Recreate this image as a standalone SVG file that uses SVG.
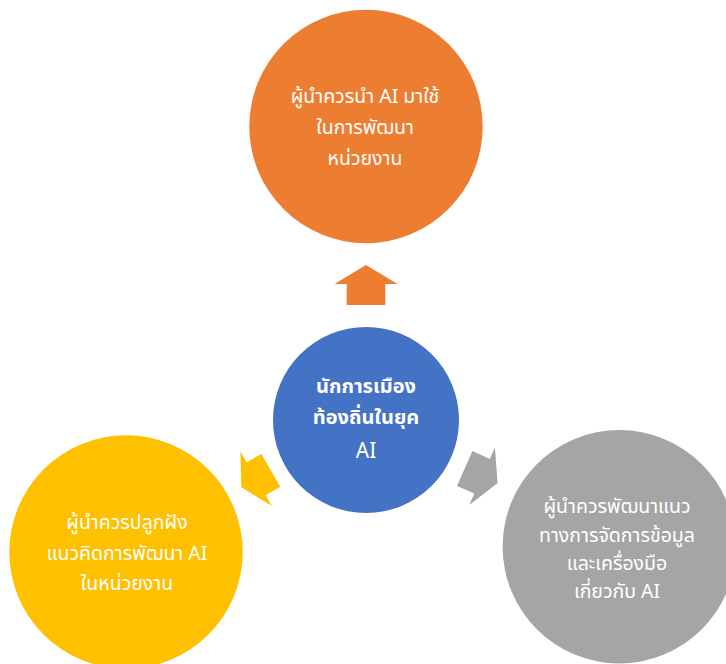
<svg xmlns="http://www.w3.org/2000/svg" width="726" height="664" viewBox="0 0 726 664">
<style>
.t{font-family:"Noto Sans Thai","Leelawadee UI","Tahoma","Noto Sans","DejaVu Sans",sans-serif;fill:#fff;text-anchor:middle;font-size:19.5px}
.b{font-weight:bold;font-size:20px}
.a{font-size:21px}
</style>
<rect width="726" height="664" fill="#fff"/>
<g id="connectors">
<path id="arrow-up" fill="#ED7D31" d="M346.7,305 L346.7,284 L334.5,284 L366,265 L397.5,284 L385.3,284 L385.3,305 Z"/>
<path id="arrow-left" fill="#FFC000" d="M261.3,453.9 L246.6,462.3 L240.4,451.5 L241.4,487.3 L271.9,506.1 L265.6,495.3 L280.3,486.8 Z"/>
<path id="arrow-right" fill="#A5A5A5" d="M472.4,451.1 L489.8,458.9 L494.9,447.4 L497.6,483.1 L469.3,505 L474.4,493.6 L457,485.9 Z"/>
</g>
<g id="node-top">
<circle cx="366" cy="126.5" r="116.7" fill="#ED7D31"/>
<text class="t" x="365" y="103">ผู้นำควรนำ AI มาใช้</text>
<text class="t" x="365" y="134">ในการพัฒนา</text>
<text class="t" x="365" y="165">หน่วยงาน</text>
</g>
<g id="node-center">
<circle cx="366" cy="420" r="93" fill="#4472C4"/>
<text class="t b" x="366" y="393">นักการเมือง</text>
<text class="t b" x="366" y="424">ท้องถิ่นในยุค</text>
<text class="t a" x="366" y="458">AI</text>
</g>
<g id="node-left">
<circle cx="126" cy="552" r="116.7" fill="#FFC000"/>
<text class="t" x="127" y="529">ผู้นำควรปลูกฝัง</text>
<text class="t" x="127" y="560">แนวคิดการพัฒนา AI</text>
<text class="t" x="127" y="590">ในหน่วยงาน</text>
</g>
<g id="node-right">
<circle cx="619.3" cy="546.7" r="116.7" fill="#A5A5A5"/>
<text class="t" x="617" y="513">ผู้นำควรพัฒนาแนว</text>
<text class="t" x="617" y="542">ทางการจัดการข้อมูล</text>
<text class="t" x="617" y="570">และเครื่องมือ</text>
<text class="t" x="617" y="598">เกี่ยวกับ AI</text>
</g>
</svg>
